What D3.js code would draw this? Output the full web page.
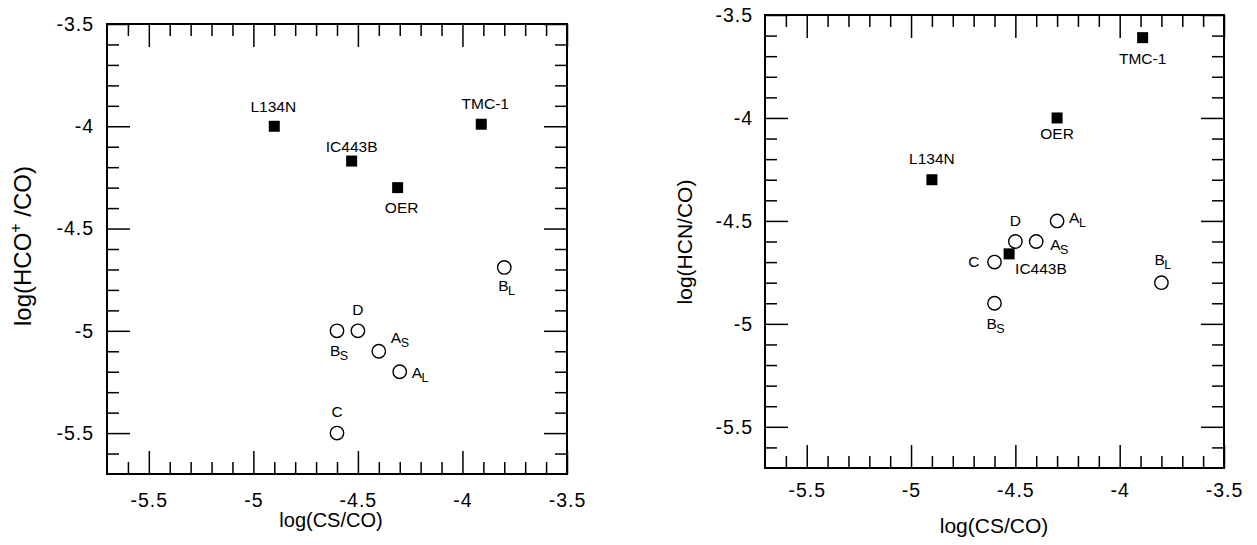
<!DOCTYPE html>
<html><head><meta charset="utf-8">
<script src="https://cdn.jsdelivr.net/npm/d3@7"></script>
<style>body{margin:0;background:#fff} svg{display:block}</style>
</head><body>
<svg id="c" width="1257" height="545"></svg>
<script>
// ---------------- data ----------------
const darkNames = ["L134N", "TMC-1", "IC443B", "OER"];
const clumpNames = ["A_L", "A_S", "B_L", "B_S", "C", "D"];

// left panel: log(HCO+/CO) vs log(CS/CO)
const leftDarkCS  = [-4.9, -3.91, -4.53, -4.31];
const leftDarkHCO = [-4.0, -3.99, -4.17, -4.30];
const leftClumpCS  = [-4.3, -4.4, -3.8, -4.6, -4.6, -4.5];
const leftClumpHCO = [-5.2, -5.1, -4.69, -5.0, -5.5, -5.0];

// right panel: log(HCN/CO) vs log(CS/CO)
const rightDarkCS  = [-4.9, -3.89, -4.53, -4.3];
const rightDarkHCN = [-4.3, -3.61, -4.66, -4.0];
const rightClumpCS  = [-4.3, -4.4, -3.8, -4.6, -4.6, -4.5];
const rightClumpHCN = [-4.5, -4.6, -4.8, -4.9, -4.7, -4.6];

const axisDomain = [-5.7, -3.5];
const majorTicks = [-5.5, -5, -4.5, -4, -3.5];
const tickLabels = ["-5.5", "-5", "-4.5", "-4", "-3.5"];
const minorStep = 0.1;

// ---------------- layout / style ----------------
const FONT = "'Liberation Sans', Arial, Helvetica, sans-serif";
const svg = d3.select("#c");

const leftPlace = {
  "L134N": ["middle", -1, -14], "TMC-1": ["middle", 4, -15], "IC443B": ["middle", 0, -9],
  "OER": ["middle", 4, 25], "B_L": ["start", -6, 24], "D": ["middle", 0, -16],
  "B_S": ["start", -7, 25], "A_S": ["start", 12, -8], "A_L": ["start", 12, 6], "C": ["middle", 0, -16]
};
const rightPlace = {
  "L134N": ["middle", 0, -16], "TMC-1": ["middle", 0, 26], "IC443B": ["start", 6, 20],
  "OER": ["middle", 0, 21], "B_L": ["start", -7, -18], "D": ["middle", 0, -16],
  "B_S": ["start", -8, 26], "A_S": ["start", 14, 8], "A_L": ["start", 12, 2], "C": ["end", -15, 5]
};

const panels = [
  { x0: 107, x1: 567, y0: 24, y1: 474, xLabBase: 33, yLabPad: 13,
    darkX: leftDarkCS, darkY: leftDarkHCO, clumpX: leftClumpCS, clumpY: leftClumpHCO,
    place: leftPlace, xTitle: "log(CS/CO)", xTitlePos: [331, 527], xTitleSize: 20,
    yTitle: ["log(HCO", "+", " /CO)"], yTitlePos: [31, 246], yTitleSize: 24 },
  { x0: 765, x1: 1224, y0: 15, y1: 468, xLabBase: 29, yLabPad: 12,
    darkX: rightDarkCS, darkY: rightDarkHCN, clumpX: rightClumpCS, clumpY: rightClumpHCN,
    place: rightPlace, xTitle: "log(CS/CO)", xTitlePos: [994, 533], xTitleSize: 21,
    yTitle: ["log(HCN/CO)"], yTitlePos: [692, 242], yTitleSize: 21 }
];

const minorTicks = d3.range(-5.7, -3.45, minorStep)
  .map(v => +v.toFixed(1))
  .filter(v => v > axisDomain[0] && v < axisDomain[1] && !majorTicks.includes(v));

function addLabel(g, name, cx, cy, pl) {
  const [anchor, dx, dy] = pl;
  const parts = name.split("_");
  const t = g.append("text")
    .attr("x", cx + dx).attr("y", cy + dy)
    .attr("text-anchor", anchor)
    .attr("font-family", FONT).attr("font-size", 15.5).attr("fill", "#000");
  t.append("tspan").text(parts[0]);
  if (parts[1]) {
    t.append("tspan").attr("font-size", 12.5).attr("dy", 4).attr("dx", -0.5).text(parts[1]);
  }
}

panels.forEach(p => {
  const g = svg.append("g");
  const x = d3.scaleLinear().domain(axisDomain).range([p.x0, p.x1]);
  const y = d3.scaleLinear().domain(axisDomain).range([p.y1, p.y0]);

  const axisDefs = [
    { gen: d3.axisBottom(x), tr: `translate(0,${p.y1})`, lab: "x" },
    { gen: d3.axisTop(x), tr: `translate(0,${p.y0})`, lab: null },
    { gen: d3.axisLeft(y), tr: `translate(${p.x0},0)`, lab: "y" },
    { gen: d3.axisRight(y), tr: `translate(${p.x1},0)`, lab: null }
  ];
  axisDefs.forEach(a => {
    // minor ticks
    const mg = g.append("g").attr("transform", a.tr)
      .call(a.gen.tickValues(minorTicks).tickSizeInner(-12).tickSizeOuter(0).tickFormat(""));
    mg.select(".domain").remove();
    mg.selectAll("line").attr("stroke", "#000").attr("stroke-width", 1.5);
    // major ticks
    const Mg = g.append("g").attr("transform", a.tr)
      .call(a.gen.tickValues(majorTicks).tickSizeInner(-23).tickSizeOuter(0)
        .tickPadding(a.lab === "y" ? p.yLabPad : 0)
        .tickFormat(a.lab ? (d, i) => tickLabels[i] : ""));
    Mg.select(".domain").remove();
    Mg.selectAll("line").attr("stroke", "#000").attr("stroke-width", 1.5);
    Mg.selectAll("text").attr("font-family", FONT).attr("font-size", 19.5)
      .attr("fill", "#000").attr("letter-spacing", 1);
    if (a.lab === "x") {
      Mg.selectAll("text").attr("y", p.xLabBase).attr("dy", null);
    }
  });

  // frame
  g.append("rect").attr("x", p.x0).attr("y", p.y0)
    .attr("width", p.x1 - p.x0).attr("height", p.y1 - p.y0)
    .attr("fill", "none").attr("stroke", "#000").attr("stroke-width", 2);

  // squares (dark clouds)
  const sq = 11;
  darkNames.forEach((n, i) => {
    const cx = x(p.darkX[i]), cy = y(p.darkY[i]);
    g.append("rect").attr("x", cx - sq / 2).attr("y", cy - sq / 2)
      .attr("width", sq).attr("height", sq).attr("fill", "#000");
    addLabel(g, n, cx, cy, p.place[n]);
  });
  // circles (clumps)
  clumpNames.forEach((n, i) => {
    const cx = x(p.clumpX[i]), cy = y(p.clumpY[i]);
    g.append("circle").attr("cx", cx).attr("cy", cy).attr("r", 6.7)
      .attr("fill", "#fff").attr("stroke", "#000").attr("stroke-width", 1.4);
    addLabel(g, n, cx, cy, p.place[n]);
  });

  // axis titles
  g.append("text").attr("x", p.xTitlePos[0]).attr("y", p.xTitlePos[1])
    .attr("text-anchor", "middle").attr("font-family", FONT).attr("font-size", p.xTitleSize)
    .attr("fill", "#000").text(p.xTitle);
  const yt = g.append("text")
    .attr("transform", `translate(${p.yTitlePos[0]},${p.yTitlePos[1]}) rotate(-90)`)
    .attr("text-anchor", "middle").attr("font-family", FONT).attr("font-size", p.yTitleSize)
    .attr("fill", "#000");
  if (p.yTitle.length === 3) {
    yt.append("tspan").text(p.yTitle[0]);
    yt.append("tspan").attr("font-size", 16).attr("dy", -10).text(p.yTitle[1]);
    yt.append("tspan").attr("dy", 10).text(p.yTitle[2]);
  } else {
    yt.text(p.yTitle[0]);
  }
});
</script>
</body></html>
